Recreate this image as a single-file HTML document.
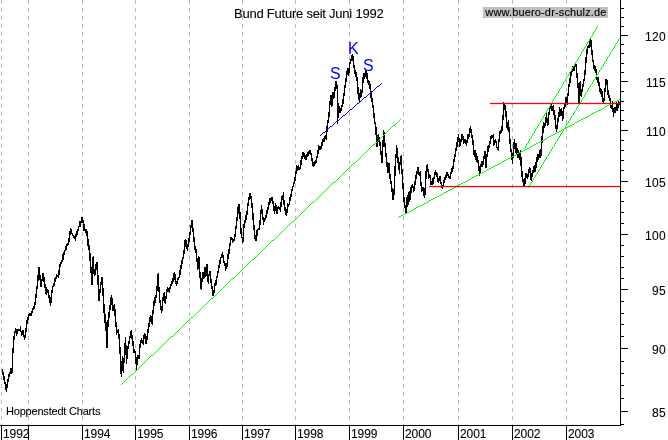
<!DOCTYPE html><html><head><meta charset="utf-8"><title>Bund Future</title><style>
html,body{margin:0;padding:0;background:#fff;}
body{width:668px;height:440px;position:relative;overflow:hidden;font-family:"Liberation Sans",sans-serif;color:#000;}
.t{position:absolute;white-space:nowrap;line-height:1;font-size:12px;will-change:transform;-webkit-text-stroke:0.1px #000;}
</style></head><body>
<svg width="668" height="440" viewBox="0 0 668 440" style="position:absolute;left:0;top:0">
<line x1="1.5" y1="0" x2="1.5" y2="425" stroke="#b8b8b8" stroke-width="1" stroke-dasharray="4 4" shape-rendering="crispEdges"/>
<line x1="28.5" y1="0" x2="28.5" y2="425" stroke="#b8b8b8" stroke-width="1" stroke-dasharray="4 4" shape-rendering="crispEdges"/>
<line x1="82.5" y1="0" x2="82.5" y2="425" stroke="#b8b8b8" stroke-width="1" stroke-dasharray="4 4" shape-rendering="crispEdges"/>
<line x1="135.5" y1="0" x2="135.5" y2="425" stroke="#b8b8b8" stroke-width="1" stroke-dasharray="4 4" shape-rendering="crispEdges"/>
<line x1="189.5" y1="0" x2="189.5" y2="425" stroke="#b8b8b8" stroke-width="1" stroke-dasharray="4 4" shape-rendering="crispEdges"/>
<line x1="242.5" y1="0" x2="242.5" y2="425" stroke="#b8b8b8" stroke-width="1" stroke-dasharray="4 4" shape-rendering="crispEdges"/>
<line x1="295.5" y1="0" x2="295.5" y2="425" stroke="#b8b8b8" stroke-width="1" stroke-dasharray="4 4" shape-rendering="crispEdges"/>
<line x1="349.5" y1="0" x2="349.5" y2="425" stroke="#b8b8b8" stroke-width="1" stroke-dasharray="4 4" shape-rendering="crispEdges"/>
<line x1="403.5" y1="0" x2="403.5" y2="425" stroke="#b8b8b8" stroke-width="1" stroke-dasharray="4 4" shape-rendering="crispEdges"/>
<line x1="458.5" y1="0" x2="458.5" y2="425" stroke="#b8b8b8" stroke-width="1" stroke-dasharray="4 4" shape-rendering="crispEdges"/>
<line x1="512.5" y1="0" x2="512.5" y2="425" stroke="#b8b8b8" stroke-width="1" stroke-dasharray="4 4" shape-rendering="crispEdges"/>
<line x1="566.5" y1="0" x2="566.5" y2="425" stroke="#b8b8b8" stroke-width="1" stroke-dasharray="4 4" shape-rendering="crispEdges"/>
<path d="M2.5 369v6m1-3v8m1-4v8m1-2v8m1-6v8m1-13v9m1-14v8m1-10v5m1-9v6m1-6v6m1-26v25m1-37v17m1-22v9m1-12v5m1-4v7m1-7v5m1-5v2m1-2v2m1-5v6m1-1v5m1-6v5m1-5v7m1-2v5m1-12v10m1-18v12m1-15v7m1-10v6m1-7v3m1-3v3m1-5v5m1-8v5m1-7v4m1-8v7m1-15v11m1-19v12m1-23v14m1-22v14m1-14v13m1-5v12m1-8v8m1-14v8m1-8v9m1-5v11m1-4v10m1-7v8m1-6v4m1-3v8m1-3v8m1-6v9m1-16v13m1-17v7m1-10v4m1-9v8m1-9v5m1-8v5m1-4v2m1-7v8m1-14v11m1-13v5m1-7v4m1-10v8m1-10v8m1-10v5m1-9v5m1-7v6m1-7v3m1-8v7m1-14v11m1-14v7m1-6v5m1-1v3m1-1v3m1-2v3m1-5v7m1-10v6m1-8v6m1-9v5m1-10v6m1-6v6m1-10v6m1-6v6m1-3v11m1-7v7m1-2v4m1-4v7m1-5v15m1-7v11m1-5v16m1-8v20m1-6v18m1-28v28m1-29v18m1-5v7m1-12v11m1-13v8m1-8v23m1-10v26m1-12v12m1-19v11m1-16v8m1-8v19m1-8v25m1-9v19m1-9v17m1-9v26m1-28v28m1-36v15m1-22v13m1-21v13m1-15v10m1-7v13m1-6v6m1-7v12m1-7v18m1-5v13m1-5v3m1-4v10m1-5v20m1-7v27m1-13v16m1-21v15m1-13v15m1-30v20m1-26v18m1-10v19m1-18v13m1-18v8m1-13v8m1-13v7m1-8v9m1-4v11m1-5v12m1-4v4m1-2v13m1-7v13m1-15v10m1-10v4m1-15v15m1-19v8m1-10v5m1-3v4m1-9v10m1-12v6m1-5v10m1-8v8m1-15v11m1-17v10m1-16v10m1-12v7m1-6v8m1-14v15m1-24v13m1-17v9m1-11v8m1-17v12m1-24v17m1-18v19m1-5v16m1-3v10m1-4v7m1-16v14m1-18v8m1-9v11m1-7v8m1-15v10m1-12v5m1-4v4m1-5v6m1-9v5m1-8v5m1-8v6m1-11v9m1-10v8m1-6v10m1-3v5m1-8v6m1-7v3m1-10v8m1-13v10m1-15v9m1-12v7m1-14v9m1-19v14m1-15v8m1-7v9m1-5v7m1-13v9m1-15v10m1-17v10m1-15v8m1-8v12m1-4v14m1-5v13m1-4v7m1-4v13m1-4v12m1-14v13m1-12v21m1-6v17m1-11v12m1-18v10m1-10v7m1-12v11m1-11v10m1-13v12m1-12v18m1-8v10m1-13v5m1-5v12m1-4v10m1-3v10m1-6v6m1-13v10m1-13v6m1-10v9m1-14v7m1-13v8m1-13v8m1-11v7m1-10v4m1-6v6m1-3v8m1-2v5m1-3v8m1-8v6m1-15v13m1-18v10m1-16v11m1-17v9m1-9v3m1-2v5m1-4v3m1-8v7m1-15v11m1-20v12m1-22v14m1-17v10m1-10v15m1-7v22m1-6v10m1-1v6m1-19v18m1-22v8m1-13v8m1-12v9m1-17v12m1-18v9m1-13v7m1-7v6m1-3v12m1-5v17m1-7v17m1-5v14m1-4v6m1-11v11m1-12v7m1-8v2m1-10v10m1-20v15m1-20v9m1-5v11m1-3v8m1-7v4m1-7v5m1-10v8m1-11v7m1-12v8m1-12v7m1-7v5m1-6v4m1-4v7m1-3v10m1-5v8m1-11v8m1-6v9m1-7v7m1-8v3m1-2v3m1-8v10m1-16v11m1-12v5m1-8v13m1-5v11m1-4v8m1-6v7m1-13v10m1-9v3m1-10v8m1-11v7m1-12v8m1-11v5m1-9v5m1-10v7m1-13v10m1-16v9m1-8v5m1-6v5m1-3v3m1-10v9m1-13v9m1-13v7m1-7v5m1-4v6m1-4v5m1-6v6m1-8v5m1-6v5m1-6v4m1-4v5m1-2v8m1-3v8m1-4v5m1-6v5m1-6v4m1-8v7m1-13v8m1-13v9m1-8v4m1-4v4m1-8v7m1-10v7m1-8v4m1-6v6m1-7v4m1-13v14m1-20v12m1-20v11m1-22v16m1-22v10m1-10v12m1-15v14m1-14v7m1-12v11m1-17v10m1-10v8m1-4v39m1-21v15m1-12v7m1-5v5m1-8v6m1-12v8m1-14v11m1-19v11m1-18v10m1-17v11m1-14v7m1-7v8m1-14v11m1-14v5m1-9v6m1-7v7m1-5v12m1-3v9m1-4v7m1-5v9m1-4v17m1-7v13m1-7v10m1-14v9m1-8v7m1-20v16m1-20v10m1-10v6m1-9v7m1-6v8m1-6v10m1-3v5m1-4v8m1-5v14m1-7v11m1-4v10m1-3v13m1-5v11m1-2v13m1-8v20m1-12v12m1-13v8m1-5v9m1-4v13m1-4v12m1-23v23m1-33v17m1-15v15m1-4v14m1-4v14m1-5v11m1-10v10m1-10v16m1-5v10m1-3v11m1-4v12m1-11v11m1-34v29m1-41v22m1-31v13m1-10v15m1-6v13m1-8v12m1-18v9m1-10v19m1-5v20m1-6v19m1-5v11m1-3v8m1-16v17m1-19v12m1-15v13m1-14v11m1-15v13m1-15v8m1-9v4m1-2v6m1-11v10m1-16v10m1-14v8m1-12v7m1-7v8m1-3v4m1-5v15m1-4v10m1-5v4m1-4v9m1-8v10m1-27v24m1-30v14m1-15v8m1-3v10m1-5v4m1-3v10m1-4v4m1-7v7m1-8v7m1-12v7m1-9v5m1-3v5m1-4v9m1-4v5m1-7v5m1-5v8m1-2v6m1-3v4m1-9v7m1-10v6m1-8v5m1-8v6m1-6v4m1-2v4m1-2v3m1-7v7m1-11v6m1-8v6m1-13v10m1-15v8m1-14v9m1-15v9m1-14v10m1-13v8m1-4v9m1-8v7m1-12v8m1-8v6m1-4v8m1-5v4m1-4v5m1-4v6m1-12v9m1-9v5m1-11v9m1-11v7m1-4v9m1-3v10m1-5v15m1-5v7m1-7v10m1-7v9m1-6v7m1-3v11m1-5v10m1-12v9m1-12v6m1-6v6m1-11v9m1-14v8m1-8v17m1-14v14m1-22v11m1-12v7m1-11v7m1-12v8m1-9v4m1-4v3m1-4v12m1-6v5m1-6v4m1-2v7m1-1v3m1-11v12m1-20v11m1-12v4m1-8v7m1-18v16m1-29v18m1-17v7m1-5v12m1-6v17m1-6v8m1-10v12m1-5v17m1-5v13m1-3v11m1-7v11m1-22v16m1-19v10m1-6v10m1-10v11m1-6v10m1-8v8m1-5v7m1-10v16m1-9v20m1-6v11m1-3v7m1-8v9m1-14v11m1-11v5m1-4v5m1-10v8m1-10v6m1-5v12m1-7v8m1-11v7m1-11v7m1-8v7m1-10v10m1-15v11m1-14v8m1-8v6m1-10v8m1-9v9m1-22v20m1-30v17m1-21v11m1-10v5m1-11v9m1-13v10m1-5v8m1-14v13m1-19v9m1-11v5m1-5v7m1-5v5m1-6v10m1-5v10m1-5v14m1-4v7m1-14v11m1-17v10m1-15v10m1-8v7m1-8v8m1-5v10m1-14v12m1-15v5m1-12v10m1-10v7m1-11v12m1-21v12m1-18v9m1-15v11m1-13v6m1-10v6m1-6v5m1-6v6m1-9v5m1-3v14m1-5v15m1-5v21m1-22v22m1-23v15m1-7v8m1-13v8m1-13v8m1-17v11m1-24v18m1-26v14m1-17v8m1-9v3m1-9v9m1-9v8m1-7v15m1-5v12m1-2v9m1-4v6m1-5v7m1-4v11m1-3v6m1-6v9m1-4v10m1-4v6m1-5v8m1-6v11m1-4v6m1-16v13m1-22v13m1-13v6m1-5v15m1-5v8m1-3v6m1-3v10m1-3v4m1-8v11m1-4v9m1-10v6m1-6v6m1-11v9m1-7v7m1-10v7m1-6v3" fill="none" stroke="#000" stroke-width="1" shape-rendering="crispEdges"/>
<path d="M121 384.5h1m0-1h1m0-1h1m0-1h1m0-1h1m0-1h1m0-1h1m0-1h1m0-1h1m0-1h1m0-1h2m0-1h1m0-1h1m0-1h1m0-1h1m0-1h1m0-1h1m0-1h1m0-1h1m0-1h1m0-1h1m0-1h1m0-1h1m0-1h1m0-1h1m0-1h1m0-1h1m0-1h1m0-1h1m0-1h2m0-1h1m0-1h1m0-1h1m0-1h1m0-1h1m0-1h1m0-1h1m0-1h1m0-1h1m0-1h1m0-1h1m0-1h1m0-1h1m0-1h1m0-1h1m0-1h1m0-1h1m0-1h1m0-1h2m0-1h1m0-1h1m0-1h1m0-1h1m0-1h1m0-1h1m0-1h1m0-1h1m0-1h1m0-1h1m0-1h1m0-1h1m0-1h1m0-1h1m0-1h1m0-1h1m0-1h1m0-1h1m0-1h2m0-1h1m0-1h1m0-1h1m0-1h1m0-1h1m0-1h1m0-1h1m0-1h1m0-1h1m0-1h1m0-1h1m0-1h1m0-1h1m0-1h1m0-1h1m0-1h1m0-1h1m0-1h1m0-1h2m0-1h1m0-1h1m0-1h1m0-1h1m0-1h1m0-1h1m0-1h1m0-1h1m0-1h1m0-1h1m0-1h1m0-1h1m0-1h1m0-1h1m0-1h1m0-1h1m0-1h1m0-1h1m0-1h1m0-1h2m0-1h1m0-1h1m0-1h1m0-1h1m0-1h1m0-1h1m0-1h1m0-1h1m0-1h1m0-1h1m0-1h1m0-1h1m0-1h1m0-1h1m0-1h1m0-1h1m0-1h1m0-1h1m0-1h2m0-1h1m0-1h1m0-1h1m0-1h1m0-1h1m0-1h1m0-1h1m0-1h1m0-1h1m0-1h1m0-1h1m0-1h1m0-1h1m0-1h1m0-1h1m0-1h1m0-1h1m0-1h1m0-1h2m0-1h1m0-1h1m0-1h1m0-1h1m0-1h1m0-1h1m0-1h1m0-1h1m0-1h1m0-1h1m0-1h1m0-1h1m0-1h1m0-1h1m0-1h1m0-1h1m0-1h1m0-1h1m0-1h2m0-1h1m0-1h1m0-1h1m0-1h1m0-1h1m0-1h1m0-1h1m0-1h1m0-1h1m0-1h1m0-1h1m0-1h1m0-1h1m0-1h1m0-1h1m0-1h1m0-1h1m0-1h1m0-1h2m0-1h1m0-1h1m0-1h1m0-1h1m0-1h1m0-1h1m0-1h1m0-1h1m0-1h1m0-1h1m0-1h1m0-1h1m0-1h1m0-1h1m0-1h1m0-1h1m0-1h1m0-1h1m0-1h1m0-1h2m0-1h1m0-1h1m0-1h1m0-1h1m0-1h1m0-1h1m0-1h1m0-1h1m0-1h1m0-1h1m0-1h1m0-1h1m0-1h1m0-1h1m0-1h1m0-1h1m0-1h1m0-1h1m0-1h2m0-1h1m0-1h1m0-1h1m0-1h1m0-1h1m0-1h1m0-1h1m0-1h1m0-1h1m0-1h1m0-1h1m0-1h1m0-1h1m0-1h1m0-1h1m0-1h1m0-1h1m0-1h1m0-1h2m0-1h1m0-1h1m0-1h1m0-1h1m0-1h1m0-1h1m0-1h1m0-1h1m0-1h1m0-1h1m0-1h1m0-1h1m0-1h1m0-1h1m0-1h1m0-1h1m0-1h1m0-1h1m0-1h2m0-1h1m0-1h1m0-1h1m0-1h1m0-1h1m0-1h1" fill="none" stroke="#00ff00" stroke-width="1" shape-rendering="crispEdges"/>
<path d="M398 217.5h1m0-1h2m0-1h2m0-1h2m0-1h2m0-1h2m0-1h2m0-1h2m0-1h1m0-1h2m0-1h2m0-1h2m0-1h2m0-1h2m0-1h2m0-1h2m0-1h1m0-1h2m0-1h2m0-1h2m0-1h2m0-1h2m0-1h2m0-1h2m0-1h1m0-1h2m0-1h2m0-1h2m0-1h2m0-1h2m0-1h2m0-1h1m0-1h2m0-1h2m0-1h2m0-1h2m0-1h2m0-1h2m0-1h2m0-1h1m0-1h2m0-1h2m0-1h2m0-1h2m0-1h2m0-1h2m0-1h2m0-1h1m0-1h2m0-1h2m0-1h2m0-1h2m0-1h2m0-1h2m0-1h2m0-1h1m0-1h2m0-1h2m0-1h2m0-1h2m0-1h2m0-1h2m0-1h2m0-1h1m0-1h2m0-1h2m0-1h2m0-1h2m0-1h2m0-1h2m0-1h2m0-1h1m0-1h2m0-1h2m0-1h2m0-1h2m0-1h2m0-1h2m0-1h2m0-1h1m0-1h2m0-1h2m0-1h2m0-1h2m0-1h2m0-1h2m0-1h2m0-1h1m0-1h2m0-1h2m0-1h2m0-1h2m0-1h2m0-1h2m0-1h1m0-1h2m0-1h2m0-1h2m0-1h2m0-1h2m0-1h2m0-1h2m0-1h1m0-1h2m0-1h2m0-1h2m0-1h2m0-1h2m0-1h2m0-1h2m0-1h1m0-1h2m0-1h2m0-1h2m0-1h2m0-1h2m0-1h2m0-1h2m0-1h1" fill="none" stroke="#00ff00" stroke-width="1" shape-rendering="crispEdges"/>
<path d="M524.5 149v-1m1 0v-2m1 0v-2m1 0v-1m1 0v-2m1 0v-2m1 0v-1m1 0v-2m1 0v-2m1 0v-1m1 0v-2m1 0v-2m1 0v-1m1 0v-2m1 0v-2m1 0v-1m1 0v-2m1 0v-2m1 0v-1m1 0v-2m1 0v-2m1 0v-1m1 0v-2m1 0v-2m1 0v-1m1 0v-2m1 0v-2m1 0v-1m1 0v-2m1 0v-2m1 0v-1m1 0v-2m1 0v-2m1 0v-1m1 0v-2m1 0v-2m1 0v-1m1 0v-2m1 0v-2m1 0v-2m1 0v-1m1 0v-2m1 0v-2m1 0v-1m1 0v-2m1 0v-2m1 0v-1m1 0v-2m1 0v-2m1 0v-1m1 0v-2m1 0v-2m1 0v-1m1 0v-2m1 0v-2m1 0v-1m1 0v-2m1 0v-2m1 0v-1m1 0v-2m1 0v-2m1 0v-1m1 0v-2m1 0v-2m1 0v-1m1 0v-2m1 0v-2m1 0v-1m1 0v-2m1 0v-2m1 0v-1m1 0v-2m1 0v-2m1 0v-1" fill="none" stroke="#00ff00" stroke-width="1" shape-rendering="crispEdges"/>
<path d="M528.5 188v-1m1 0v-2m1 0v-2m1 0v-1m1 0v-2m1 0v-2m1 0v-1m1 0v-2m1 0v-1m1 0v-2m1 0v-2m1 0v-1m1 0v-2m1 0v-2m1 0v-1m1 0v-2m1 0v-2m1 0v-1m1 0v-2m1 0v-1m1 0v-2m1 0v-2m1 0v-1m1 0v-2m1 0v-2m1 0v-1m1 0v-2m1 0v-2m1 0v-1m1 0v-2m1 0v-1m1 0v-2m1 0v-2m1 0v-1m1 0v-2m1 0v-2m1 0v-1m1 0v-2m1 0v-2m1 0v-1m1 0v-2m1 0v-1m1 0v-2m1 0v-2m1 0v-1m1 0v-2m1 0v-2m1 0v-1m1 0v-2m1 0v-2m1 0v-1m1 0v-2m1 0v-1m1 0v-2m1 0v-2m1 0v-1m1 0v-2m1 0v-2m1 0v-1m1 0v-2m1 0v-2m1 0v-1m1 0v-2m1 0v-1m1 0v-2m1 0v-2m1 0v-1m1 0v-2m1 0v-2m1 0v-1m1 0v-2m1 0v-2m1 0v-1m1 0v-2m1 0v-1m1 0v-2m1 0v-2m1 0v-1m1 0v-2m1 0v-2m1 0v-1m1 0v-2m1 0v-2m1 0v-1m1 0v-2m1 0v-1m1 0v-2m1 0v-2m1 0v-1m1 0v-2m1 0v-2m1 0v-1" fill="none" stroke="#00ff00" stroke-width="1" shape-rendering="crispEdges"/>
<path d="M320 135.5h1m0-1h1m0-1h1m0-1h2m0-1h1m0-1h1m0-1h1m0-1h1m0-1h1m0-1h2m0-1h1m0-1h1m0-1h1m0-1h1m0-1h2m0-1h1m0-1h1m0-1h1m0-1h1m0-1h1m0-1h2m0-1h1m0-1h1m0-1h1m0-1h1m0-1h1m0-1h2m0-1h1m0-1h1m0-1h1m0-1h1m0-1h1m0-1h2m0-1h1m0-1h1m0-1h1m0-1h1m0-1h1m0-1h2m0-1h1m0-1h1m0-1h1m0-1h1m0-1h2m0-1h1m0-1h1m0-1h1m0-1h1m0-1h1m0-1h2m0-1h1m0-1h1m0-1h1" fill="none" stroke="#0000ff" stroke-width="1" shape-rendering="crispEdges"/>
<rect x="429" y="185.9" width="191" height="1.25" fill="#ff0000"/>
<rect x="490" y="102.9" width="130" height="1.25" fill="#ff0000"/>
<rect x="620" y="0" width="1" height="426" fill="#000"/>
<rect x="0" y="425" width="621" height="1" fill="#000"/>
<rect x="1" y="425" width="1" height="15" fill="#000"/>
<rect x="28" y="425" width="1" height="15" fill="#000"/>
<rect x="82" y="425" width="1" height="15" fill="#000"/>
<rect x="135" y="425" width="1" height="15" fill="#000"/>
<rect x="189" y="425" width="1" height="15" fill="#000"/>
<rect x="242" y="425" width="1" height="15" fill="#000"/>
<rect x="295" y="425" width="1" height="15" fill="#000"/>
<rect x="349" y="425" width="1" height="15" fill="#000"/>
<rect x="403" y="425" width="1" height="15" fill="#000"/>
<rect x="458" y="425" width="1" height="15" fill="#000"/>
<rect x="512" y="425" width="1" height="15" fill="#000"/>
<rect x="566" y="425" width="1" height="15" fill="#000"/>
<rect x="620" y="424" width="4" height="1" fill="#000"/>
<rect x="620" y="411" width="8" height="1" fill="#000"/>
<rect x="620" y="398" width="4" height="1" fill="#000"/>
<rect x="620" y="385" width="4" height="1" fill="#000"/>
<rect x="620" y="373" width="4" height="1" fill="#000"/>
<rect x="620" y="361" width="4" height="1" fill="#000"/>
<rect x="620" y="348" width="8" height="1" fill="#000"/>
<rect x="620" y="336" width="4" height="1" fill="#000"/>
<rect x="620" y="324" width="4" height="1" fill="#000"/>
<rect x="620" y="313" width="4" height="1" fill="#000"/>
<rect x="620" y="301" width="4" height="1" fill="#000"/>
<rect x="620" y="289" width="8" height="1" fill="#000"/>
<rect x="620" y="278" width="4" height="1" fill="#000"/>
<rect x="620" y="267" width="4" height="1" fill="#000"/>
<rect x="620" y="256" width="4" height="1" fill="#000"/>
<rect x="620" y="245" width="4" height="1" fill="#000"/>
<rect x="620" y="234" width="8" height="1" fill="#000"/>
<rect x="620" y="223" width="4" height="1" fill="#000"/>
<rect x="620" y="212" width="4" height="1" fill="#000"/>
<rect x="620" y="201" width="4" height="1" fill="#000"/>
<rect x="620" y="191" width="4" height="1" fill="#000"/>
<rect x="620" y="181" width="8" height="1" fill="#000"/>
<rect x="620" y="170" width="4" height="1" fill="#000"/>
<rect x="620" y="160" width="4" height="1" fill="#000"/>
<rect x="620" y="150" width="4" height="1" fill="#000"/>
<rect x="620" y="140" width="4" height="1" fill="#000"/>
<rect x="620" y="130" width="8" height="1" fill="#000"/>
<rect x="620" y="120" width="4" height="1" fill="#000"/>
<rect x="620" y="110" width="4" height="1" fill="#000"/>
<rect x="620" y="101" width="4" height="1" fill="#000"/>
<rect x="620" y="91" width="4" height="1" fill="#000"/>
<rect x="620" y="81" width="8" height="1" fill="#000"/>
<rect x="620" y="72" width="4" height="1" fill="#000"/>
<rect x="620" y="63" width="4" height="1" fill="#000"/>
<rect x="620" y="53" width="4" height="1" fill="#000"/>
<rect x="620" y="44" width="4" height="1" fill="#000"/>
<rect x="620" y="35" width="8" height="1" fill="#000"/>
<rect x="620" y="26" width="4" height="1" fill="#000"/>
<rect x="620" y="17" width="4" height="1" fill="#000"/>
<rect x="620" y="8" width="4" height="1" fill="#000"/>
<rect x="620" y="-1" width="4" height="1" fill="#000"/>
</svg>
<div class="t" style="left:233.8px;top:7.3px;font-size:13px;letter-spacing:-0.23px;">Bund Future seit Juni 1992</div>
<div class="t" style="left:483px;top:7px;width:125px;height:11px;background:#c0c0c0;"><span style="position:absolute;left:2.3px;top:0px;font-size:11px;letter-spacing:0.15px;">www.buero-dr-schulz.de</span></div>
<div class="t" style="left:5.8px;top:405.5px;font-size:11px;letter-spacing:-0.2px;">Hoppenstedt Charts</div>
<div class="t" style="left:3.4px;top:428px;width:24.6px;overflow:hidden;letter-spacing:-0.1px;">1992</div>
<div class="t" style="left:84.4px;top:428px;letter-spacing:-0.1px;">1994</div>
<div class="t" style="left:137.4px;top:428px;letter-spacing:-0.1px;">1995</div>
<div class="t" style="left:191.4px;top:428px;letter-spacing:-0.1px;">1996</div>
<div class="t" style="left:244.4px;top:428px;letter-spacing:-0.1px;">1997</div>
<div class="t" style="left:297.4px;top:428px;letter-spacing:-0.1px;">1998</div>
<div class="t" style="left:351.4px;top:428px;letter-spacing:-0.1px;">1999</div>
<div class="t" style="left:405.4px;top:428px;letter-spacing:-0.1px;">2000</div>
<div class="t" style="left:460.4px;top:428px;letter-spacing:-0.1px;">2001</div>
<div class="t" style="left:514.4px;top:428px;letter-spacing:-0.1px;">2002</div>
<div class="t" style="left:568.4px;top:428px;letter-spacing:-0.1px;">2003</div>
<div class="t" style="right:2.1px;top:407px;letter-spacing:0.3px;">85</div>
<div class="t" style="right:2.1px;top:344px;letter-spacing:0.3px;">90</div>
<div class="t" style="right:2.1px;top:285px;letter-spacing:0.3px;">95</div>
<div class="t" style="right:2.1px;top:230px;letter-spacing:0.3px;">100</div>
<div class="t" style="right:2.1px;top:177px;letter-spacing:0.3px;">105</div>
<div class="t" style="right:2.1px;top:126px;letter-spacing:0.3px;">110</div>
<div class="t" style="right:2.1px;top:77px;letter-spacing:0.3px;">115</div>
<div class="t" style="right:2.1px;top:31px;letter-spacing:0.3px;">120</div>
<div class="t" style="left:330.3px;top:66.4px;font-size:16px;color:#0000ff;-webkit-text-stroke:0;">S</div>
<div class="t" style="left:347.6px;top:41.4px;font-size:16px;color:#0000ff;-webkit-text-stroke:0;">K</div>
<div class="t" style="left:363.1px;top:58.4px;font-size:16px;color:#0000ff;-webkit-text-stroke:0;">S</div>
</body></html>
